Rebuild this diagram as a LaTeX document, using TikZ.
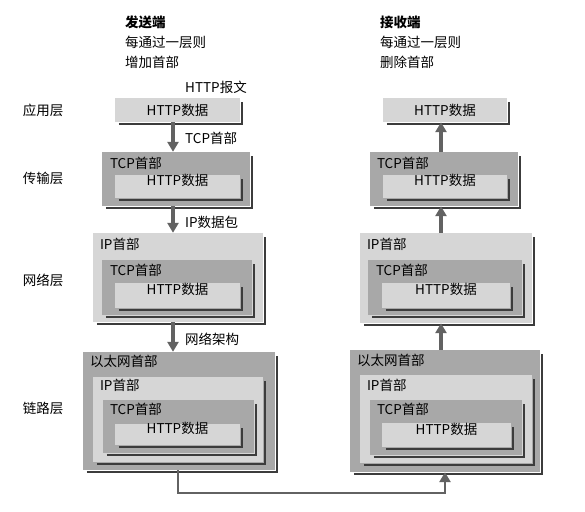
\documentclass[tikz,border=0pt]{standalone}
\usepackage{fontspec}
\setmainfont{Noto Sans CJK SC}
\usetikzlibrary{arrows.meta,fit,calc}
\definecolor{paleGray}{HTML}{D6D6D6}
\definecolor{midGray}{HTML}{A8A8A8}
\definecolor{rimGray}{HTML}{3C3C3C}
\definecolor{flowGray}{HTML}{626262}
% dark L-shaped rim on the right and bottom of a box
\newcommand\boxrim[1]{\draw[rim] ([xshift=4pt,yshift=-1.5pt]#1.south west) -- ([xshift=1.5pt,yshift=-1.5pt]#1.south east) -- ([xshift=1.5pt,yshift=-4pt]#1.north east);}
\begin{document}
\begin{tikzpicture}[
    x=1pt, y=-1pt,
    font=\fontsize{13.5}{16}\selectfont,
    palebox/.style={fill=paleGray, inner sep=0pt},
    midbox/.style={fill=midGray, inner sep=0pt},
    rim/.style={draw=rimGray, line width=2pt},
    flow/.style={draw=flowGray, line width=3.5pt, -{Triangle[width=11pt,length=10pt]}},
    wire/.style={draw=flowGray, line width=2.5pt},
    head/.style={anchor=west, inner sep=0pt},
    tag/.style={anchor=west, inner sep=0pt},
    ]
\useasboundingbox (0,0) rectangle (585,511);
% headings
\node[head, font=\fontsize{13.5}{16}\selectfont\bfseries] (sndA) at (125,22) {发送端};
\node[head] (sndB) at (125,42) {每通过一层则};
\node[head] (sndC) at (125,62) {增加首部};
\node[head, font=\fontsize{13.5}{16}\selectfont\bfseries] (rcvA) at (380,22) {接收端};
\node[head] (rcvB) at (380,42) {每通过一层则};
\node[head] (rcvC) at (380,62) {删除首部};
% layer names
\node (appL) at (43,110) {应用层};
\node (trnL) at (43,178) {传输层};
\node (netL) at (43,280) {网络层};
\node (lnkL) at (43,408) {链路层};
% sender side
\node[tag] (msg) at (185,87) {HTTP报文};
\node[palebox, fit={(115,98) (240,122)}] (app) {};
\boxrim{app}
\node (appD) at (app.center) {HTTP数据};
\node[midbox, fit={(102,152) (250,206)}] (trn) {};
\boxrim{trn}
\node[tag] (trnH) at ([shift={(8,12)}]trn.north west) {TCP首部};
\node[palebox, fit={(115,175) (240,198)}] (trnD) {HTTP数据};
\boxrim{trnD}
\node[palebox, fit={(93,233) (263,322)}] (net) {};
\boxrim{net}
\node[tag] (netH) at ([shift={(7,12)}]net.north west) {IP首部};
\node[midbox, fit={(102,260) (252,315)}] (netT) {};
\boxrim{netT}
\node[tag] (netTH) at ([shift={(8,11)}]netT.north west) {TCP首部};
\node[palebox, fit={(115,283) (240,308)}] (netD) {HTTP数据};
\boxrim{netD}
\node[midbox, fit={(83,352) (275,470)}] (lnk) {};
\boxrim{lnk}
\node[tag] (lnkH) at ([shift={(7,10)}]lnk.north west) {以太网首部};
\node[palebox, fit={(93,377) (263,462)}] (lnkI) {};
\boxrim{lnkI}
\node[tag] (lnkIH) at ([shift={(7,9)}]lnkI.north west) {IP首部};
\node[midbox, fit={(103,400) (254,453)}] (lnkT) {};
\boxrim{lnkT}
\node[tag] (lnkTH) at ([shift={(7,10)}]lnkT.north west) {TCP首部};
\node[palebox, fit={(115,424) (240,445)}] (lnkD) {HTTP数据};
\boxrim{lnkD}
% receiver side
\node[palebox, fit={(383,98) (507,122)}] (rapp) {};
\boxrim{rapp}
\node (rappD) at (rapp.center) {HTTP数据};
\node[midbox, fit={(370,152) (518,206)}] (rtrn) {};
\boxrim{rtrn}
\node[tag] (rtrnH) at ([shift={(7,12)}]rtrn.north west) {TCP首部};
\node[palebox, fit={(383,175) (507,198)}] (rtrnD) {HTTP数据};
\boxrim{rtrnD}
\node[palebox, fit={(360,233) (532,323)}] (rnet) {};
\boxrim{rnet}
\node[tag] (rnetH) at ([shift={(7,12)}]rnet.north west) {IP首部};
\node[midbox, fit={(368,260) (522,315)}] (rnetT) {};
\boxrim{rnetT}
\node[tag] (rnetTH) at ([shift={(8,11)}]rnetT.north west) {TCP首部};
\node[palebox, fit={(382,283) (510,308)}] (rnetD) {HTTP数据};
\boxrim{rnetD}
\node[midbox, fit={(350,350) (540,472)}] (rlnk) {};
\boxrim{rlnk}
\node[tag] (rlnkH) at ([shift={(7,11)}]rlnk.north west) {以太网首部};
\node[palebox, fit={(360,375) (532,463)}] (rlnkI) {};
\boxrim{rlnkI}
\node[tag] (rlnkIH) at ([shift={(7,11)}]rlnkI.north west) {IP首部};
\node[midbox, fit={(370,400) (522,455)}] (rlnkT) {};
\boxrim{rlnkT}
\node[tag] (rlnkTH) at ([shift={(7,10)}]rlnkT.north west) {TCP首部};
\node[palebox, fit={(382,423) (511,447)}] (rlnkD) {HTTP数据};
\boxrim{rlnkD}
% arrows
\coordinate (lx) at (173,0);
\coordinate (rx) at (441,0);
\coordinate (bot) at (300,493);
\draw[flow] (app.south -| lx) -- (trn.north -| lx);
\node[tag] (hTcp) at (185,138) {TCP首部};
\draw[flow] (trn.south -| lx) -- (net.north -| lx);
\node[tag] (hIp) at (185,222) {IP数据包};
\draw[flow] (net.south -| lx) -- (lnk.north -| lx);
\node[tag] (hEth) at (185,339) {网络架构};
\draw[flow] (rtrn.north -| rx) -- (rapp.south -| rx);
\draw[flow] (rnet.north -| rx) -- (rtrn.south -| rx);
\draw[flow] (rlnk.north -| rx) -- (rnet.south -| rx);
\draw[wire, -{Triangle[width=11pt,length=10pt]}] (lnk.south -| 178,0) |- (bot) -| (rlnk.south -| 445,0);
\end{tikzpicture}
\end{document}
